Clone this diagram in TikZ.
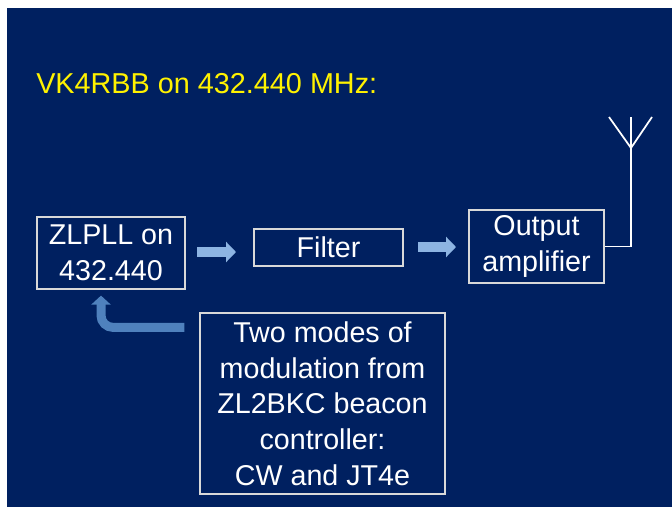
\documentclass[tikz,border=0pt]{standalone}
\usepackage{fontspec}
\setmainfont{Liberation Sans}
\usetikzlibrary{arrows.meta,calc,positioning}
\definecolor{slide}{HTML}{002060}
\definecolor{paleblue}{HTML}{8DB4E2}
\definecolor{midblue}{HTML}{4F81BD}
\definecolor{boxline}{HTML}{D9D9D9}

\begin{document}
\begin{tikzpicture}[%
x=0.75pt, y=-0.75pt,
block/.style={draw=boxline, line width=0.9pt, text=white, align=center, inner sep=0pt,
  font=\fontsize{21.5}{26.8}\selectfont},
fatarrow/.style={draw=paleblue, line width=7.5pt, -{Triangle[width=15pt,length=7.5pt]}},
bentarrow/.style={draw=midblue, line width=6.75pt, rounded corners=9pt,
  -{Triangle[width=14.25pt,length=6.75pt]}},
aerial/.style={draw=white, line width=1.3pt},
]
\fill [white] (0,0) rectangle (672,507);
\fill [slide] (7,8) rectangle (672,507);
\useasboundingbox (0,0) rectangle (672,507);
%% title;
\node [anchor=base west, inner sep=0pt, text=yellow, font=\fontsize{21.6}{27}\selectfont] (title) at (36,93) {VK4RBB on 432.440 MHz:};
%% box;
\node [block, minimum width=111pt, minimum height=54pt] (pll) at (111,253) {ZLPLL on\\432.440};
%% box;
\node [block, minimum width=111.75pt, minimum height=27.75pt] (filter) at (328.5,247.5) {Filter};
%% box;
\node [block, minimum width=101.25pt, minimum height=54.75pt] (amp) at (536.5,246.5) {Output\\amplifier};
%% box;
\node [block, minimum width=183.75pt, minimum height=135.75pt] (mod) at (322.5,403.5) {Two modes of\\modulation from\\ZL2BKC beacon\\controller:\\CW and JT4e};
%% antenna;
\coordinate (tip) at (631,117);
\coordinate (mast) at (631,148);
\coordinate (tipl) at (609,117);
\coordinate (tipr) at (652,117);
\draw [aerial] (amp.east) -| (tip);
\draw [aerial] (tipl) -- (mast) -- (tipr);
%% arrow;
\coordinate (a1s) at (197,252);
\coordinate (a1e) at (236,252);
\draw [fatarrow] (a1s) -- (a1e);
%% arrow;
\coordinate (a2s) at (418,247);
\coordinate (a2e) at (456,247);
\draw [fatarrow] (a2s) -- (a2e);
%% feedback arrow;
\coordinate (fbs) at ($(mod.north west)+(-15,15)$);
\coordinate (fbe) at ($(pll.south)+(-10,6)$);
\draw [bentarrow] (fbs) -| (fbe);
\end{tikzpicture}
\end{document}
